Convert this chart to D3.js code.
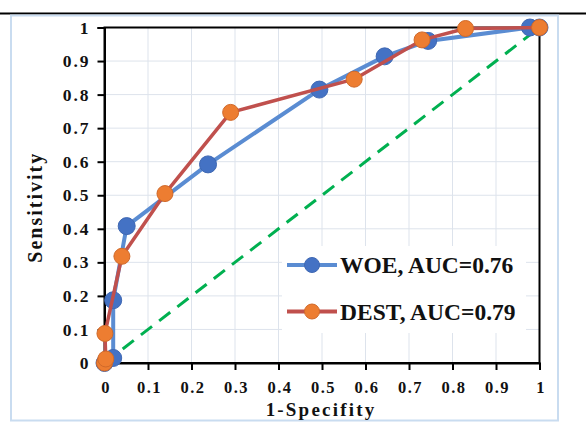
<!DOCTYPE html>
<html><head><meta charset="utf-8">
<script src="https://cdn.jsdelivr.net/npm/d3@7/dist/d3.min.js"></script>
<style>
html,body{margin:0;padding:0;background:#fff;}
svg{display:block;}
text{font-family:"Liberation Serif","Times New Roman",serif;font-weight:bold;fill:#111;}
</style></head>
<body>
<svg id="chart" width="586" height="423"></svg>
<script>
const tickValues = [0,0.1,0.2,0.3,0.4,0.5,0.6,0.7,0.8,0.9,1];
const tickLabels = ["0","0.1","0.2","0.3","0.4","0.5","0.6","0.7","0.8","0.9","1"];
const woeX = [0,0.02,0.02,0.051,0.238,0.494,0.644,0.744,0.978,1];
const woeY = [0,0.015,0.187,0.408,0.592,0.815,0.914,0.96,1,1];
const destX = [0,0.003,0.001,0.04,0.139,0.29,0.574,0.73,0.83,1];
const destY = [0,0.012,0.088,0.318,0.505,0.747,0.846,0.963,0.997,1];
const seriesNames = ["WOE, AUC=0.76","DEST, AUC=0.79"];
const refLine = [0,1];
const xTitle = "1-Specifity";
const yTitle = "Sensitivity";

const svg = d3.select("#chart");
const L=104.5, R=539.5, T=27.5, B=363;
const x = d3.scaleLinear().domain([0,1]).range([L,R]);
const y = d3.scaleLinear().domain([0,1]).range([B,T]);

// top black rule
svg.append("line").attr("x1",0).attr("x2",586).attr("y1",13.5).attr("y2",13.5)
  .attr("stroke","#000").attr("stroke-width",2);
// outer light border
svg.append("rect").attr("x",11).attr("y",15.5).attr("width",547).attr("height",405)
  .attr("fill","none").attr("stroke","#c9dcf0").attr("stroke-width",2);

// grid
const g = svg.append("g");
g.selectAll(".vg").data(tickValues).join("line")
  .attr("x1",d=>x(d)).attr("x2",d=>x(d)).attr("y1",T).attr("y2",B)
  .attr("stroke","#dde3ec").attr("stroke-width",1);
g.selectAll(".hg").data(tickValues).join("line")
  .attr("x1",L).attr("x2",R).attr("y1",d=>y(d)).attr("y2",d=>y(d))
  .attr("stroke","#dde3ec").attr("stroke-width",1);

// frame
svg.append("rect").attr("x",L).attr("y",T).attr("width",R-L).attr("height",B-T)
  .attr("fill","none").attr("stroke","#000").attr("stroke-width",2);

// axes
const fmt = (d,i)=>tickLabels[i];
const xa = svg.append("g").attr("transform",`translate(0,${B})`)
  .call(d3.axisBottom(x).tickValues(tickValues).tickFormat(fmt).tickSize(7).tickPadding(11));
const ya = svg.append("g").attr("transform",`translate(${L},0)`)
  .call(d3.axisLeft(y).tickValues(tickValues).tickFormat(fmt).tickSize(7).tickPadding(7));
[xa,ya].forEach(a=>{
  a.select(".domain").attr("stroke","#000").attr("stroke-width",2);
  a.selectAll(".tick line").attr("stroke","#000").attr("stroke-width",2);
  a.selectAll("text").attr("font-family","Liberation Serif").attr("font-weight","bold")
    .attr("fill","#111");
});
xa.selectAll("text").attr("font-size",16.5).style("letter-spacing","1.5px").attr("dx","1px");
ya.selectAll("text").attr("font-size",17.5).style("letter-spacing","2px");

// reference diagonal
svg.append("line").attr("x1",x(refLine[0])).attr("y1",y(refLine[0]))
  .attr("x2",x(refLine[1])).attr("y2",y(refLine[1]))
  .attr("stroke","#00b050").attr("stroke-width",3).attr("stroke-dasharray","14,9");

const line = d3.line().x(d=>x(d[0])).y(d=>y(d[1]));
const woe = woeX.map((v,i)=>[v,woeY[i]]);
const dest = destX.map((v,i)=>[v,destY[i]]);

svg.append("path").datum(woe).attr("d",line).attr("fill","none")
  .attr("stroke","#5a8cd2").attr("stroke-width",4).attr("stroke-linejoin","round");
svg.append("g").selectAll("circle").data(woe).join("circle")
  .attr("cx",d=>x(d[0])).attr("cy",d=>y(d[1])).attr("r",8.5)
  .attr("fill","#4472c4").attr("stroke","#3f68b3").attr("stroke-width",1);

svg.append("path").datum(dest).attr("d",line).attr("fill","none")
  .attr("stroke","#c0504d").attr("stroke-width",3.5).attr("stroke-linejoin","round");
svg.append("g").selectAll("circle").data(dest).join("circle")
  .attr("cx",d=>x(d[0])).attr("cy",d=>y(d[1])).attr("r",8)
  .attr("fill","#ed7d31").attr("stroke","#d0692a").attr("stroke-width",1);

// legend
svg.append("rect").attr("x",282).attr("y",246).attr("width",244).attr("height",87).attr("fill","#fff");
const leg = [
  {name:seriesNames[0], line:"#5a8cd2", fill:"#4472c4", stroke:"#3f68b3", y:265},
  {name:seriesNames[1], line:"#c0504d", fill:"#ed7d31", stroke:"#d0692a", y:311.5}
];
leg.forEach(e=>{
  svg.append("line").attr("x1",287).attr("x2",337).attr("y1",e.y).attr("y2",e.y)
    .attr("stroke",e.line).attr("stroke-width",4);
  svg.append("circle").attr("cx",312).attr("cy",e.y).attr("r",7.5)
    .attr("fill",e.fill).attr("stroke",e.stroke).attr("stroke-width",1);
  svg.append("text").attr("x",340).attr("y",e.y+8).attr("font-size",23.5).text(e.name);
});

// titles
svg.append("text").attr("x",(L+R)/2-1).attr("y",416).attr("text-anchor","middle")
  .attr("font-size",19).style("letter-spacing","2.2px").text(xTitle);
svg.append("text").attr("transform",`translate(42,${(T+B)/2+12}) rotate(-90)`)
  .attr("text-anchor","middle").attr("font-size",20).style("letter-spacing","2px").text(yTitle);
</script>
</body></html>
